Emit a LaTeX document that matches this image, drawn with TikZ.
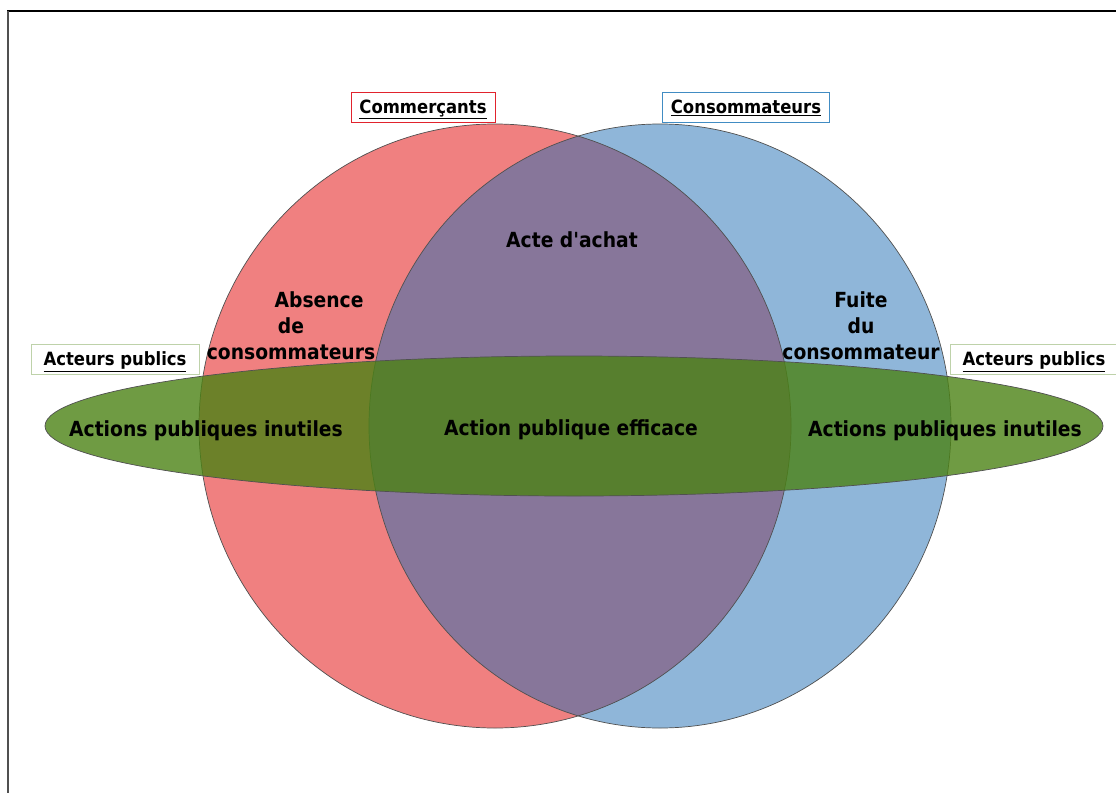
\documentclass[tikz,border=0pt]{standalone}
\usepackage{fontspec}
\setmainfont{DejaVu Sans Condensed}
\usetikzlibrary{positioning}
\definecolor{rougeC}{RGB}{240,128,128}
\definecolor{bleuC}{RGB}{31,110,180}
\definecolor{vertC}{RGB}{75,130,20}
\definecolor{bordC}{RGB}{80,80,80}
\definecolor{cadreR}{RGB}{225,35,45}
\definecolor{cadreB}{RGB}{65,140,195}
\definecolor{cadreV}{RGB}{190,210,170}
\tikzset{
  zone/.style={draw=bordC,line width=0.5pt},
  etiquette/.style={draw,fill=white,line width=0.6pt,minimum height=0.75cm,
    inner xsep=6pt,text height=1.6ex,text depth=0pt,font=\fontsize{13}{15}\selectfont\bfseries},
  texte/.style={font=\fontsize{14.8}{18.4}\selectfont\bfseries,align=center,inner sep=0pt}
}
\begin{document}
\begin{tikzpicture}[x=0.025cm,y=-0.025cm]
        \useasboundingbox (0,0) rectangle (1116,795);
        % cadre
        \draw[black,line width=1.5pt] (7,11) -- (1116,11);
        \draw[bordC,line width=1.5pt] (8,11) -- (8,793);
        % les trois ensembles
        \fill[rougeC] (495,426) ellipse [x radius=296,y radius=302];
        \fill[bleuC,opacity=0.5] (660,426) ellipse [x radius=291,y radius=302];
        \draw[zone] (495,426) ellipse [x radius=296,y radius=302];
        \draw[zone] (660,426) ellipse [x radius=291,y radius=302];
        \fill[vertC,opacity=0.8] (574,426) ellipse [x radius=529,y radius=70];
        \draw[zone] (574,426) ellipse [x radius=529,y radius=70];
        % titres
        \node[etiquette,draw=cadreR] (commercants) at (423,107) {\underline{Commerçants}};
        \node[etiquette,draw=cadreB] (consommateurs) at (746,107) {\underline{Consommateurs}};
        \node[etiquette,draw=cadreV,minimum width=4.2cm] (acteursG) at (115,359) {\underline{Acteurs publics}};
        \node[etiquette,draw=cadreV,minimum width=4.2cm] (acteursD) at (1034,359) {\underline{Acteurs publics}};
        % textes des zones
        \node[texte] (achat) at (572,240) {Acte d\textquotesingle achat};
        \node[texte] (absence) at (291,326) {\hspace*{2.7em}Absence\\de\\consommateurs};
        \node[texte] (fuite) at (861,326) {Fuite\\du\hspace*{1.3em}\\consommateur};
        \node[texte] (inutilesG) at (206,431) {Actions publiques inutiles};
        \node[texte] (efficace) at (571,430) {Action publique efficace};
        \node[texte] (inutilesD) at (945,431) {Actions publiques inutiles};
      \end{tikzpicture}
\end{document}
